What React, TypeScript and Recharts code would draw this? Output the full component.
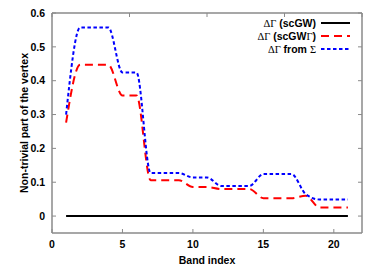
import React from "react";
import { LineChart, Line, XAxis, YAxis, Legend } from "recharts";

const bandIndex = [1, 2, 3, 4, 5, 6, 7, 8, 9, 10, 11, 12, 13, 14, 15, 16, 17, 18, 19, 20, 21];
const scGW = [0, 0, 0, 0, 0, 0, 0, 0, 0, 0, 0, 0, 0, 0, 0, 0, 0, 0, 0, 0, 0];
const scGWGamma = [0.276, 0.447, 0.447, 0.447, 0.356, 0.356, 0.106, 0.106, 0.106, 0.086, 0.086, 0.08, 0.08, 0.08, 0.053, 0.053, 0.053, 0.06, 0.025, 0.025, 0.025];
const fromSigma = [0.3, 0.557, 0.557, 0.557, 0.424, 0.424, 0.127, 0.127, 0.127, 0.114, 0.114, 0.089, 0.089, 0.089, 0.124, 0.124, 0.124, 0.065, 0.049, 0.049, 0.049];

const xTicks = [0, 5, 10, 15, 20];
const yTicks = [0, 0.1, 0.2, 0.3, 0.4, 0.5, 0.6];

const data = bandIndex.map((b, i) => ({ band: b, a: scGW[i], b: scGWGamma[i], c: fromSigma[i] }));

const FONT = "'Liberation Sans', Arial, sans-serif";
const SERIF = "'Liberation Serif', 'Times New Roman', serif";
const FRAME = "#8a8a8a";

const BottomTick = (p: any) => (
  <g>
    <line x1={p.x} y1={p.y} x2={p.x} y2={p.y - 4} stroke={FRAME} strokeWidth={1} />
    <text x={p.x} y={p.y + 14.5} textAnchor="middle" fontFamily={FONT} fontWeight="bold" fontSize={10.5} fill="#000">
      {p.payload.value}
    </text>
  </g>
);
const TopTick = (p: any) => (
  <line x1={p.x} y1={p.y} x2={p.x} y2={p.y + 4} stroke={FRAME} strokeWidth={1} />
);
const LeftTick = (p: any) => (
  <g>
    <line x1={p.x} y1={p.y} x2={p.x + 4} y2={p.y} stroke={FRAME} strokeWidth={1} />
    <text x={p.x - 7} y={p.y + 3.8} textAnchor="end" fontFamily={FONT} fontWeight="bold" fontSize={10.5} fill="#000">
      {p.payload.value === 0 ? "0" : Number(p.payload.value).toFixed(1)}
    </text>
  </g>
);
const RightTick = (p: any) => (
  <line x1={p.x} y1={p.y} x2={p.x - 4} y2={p.y} stroke={FRAME} strokeWidth={1} />
);

const legendItems = [
  { pre: "ΔΓ", label: " (scGW)", mid: "", post: "", color: "#000", dash: undefined as string | undefined },
  { pre: "ΔΓ", label: " (scGW", mid: "Γ", post: ")", color: "#ff0000", dash: "8 5" },
  { pre: "ΔΓ", label: " from ", mid: "Σ", post: "", color: "#0000ff", dash: "3.5 2.5" },
];

const LegendContent = () => (
  <svg width={382} height={267} style={{ position: "absolute", left: 0, top: 0, overflow: "visible" }}>
    {legendItems.map((it, i) => {
      const y = 23 + i * 13;
      return (
        <g key={i}>
          <text x={316} y={y + 3.8} textAnchor="end" fontSize={10.5} fill="#000">
            <tspan fontFamily={SERIF}>{it.pre}</tspan>
            <tspan fontFamily={FONT} fontWeight="bold">{it.label}</tspan>
            {it.mid ? <tspan fontFamily={SERIF}>{it.mid}</tspan> : null}
            {it.post ? <tspan fontFamily={FONT} fontWeight="bold">{it.post}</tspan> : null}
          </text>
          <line x1={321} y1={y} x2={350} y2={y} stroke={it.color} strokeWidth={2} strokeDasharray={it.dash} />
        </g>
      );
    })}
  </svg>
);

export default function App() {
  return (
    <div style={{ position: "absolute", left: 0, top: 0, width: 382, height: 267, background: "#fff" }}>
      <LineChart width={382} height={267} data={data} margin={{ top: 12, right: 19, bottom: 33, left: 51 }}>
        <XAxis
          xAxisId="main"
          dataKey="band"
          type="number"
          domain={[0, 22]}
          ticks={xTicks}
          height={1}
          tickSize={0}
          tickMargin={0}
          axisLine={{ stroke: FRAME, strokeWidth: 1.5 }}
          tickLine={false}
          tick={<BottomTick />}
          interval={0}
          allowDataOverflow
          label={{ value: "Band index", position: "bottom", offset: 23, fontFamily: FONT, fontWeight: "bold", fontSize: 10.5, fill: "#000" }}
        />
        <XAxis
          xAxisId="top"
          orientation="top"
          type="number"
          domain={[0, 22]}
          ticks={xTicks}
          height={1}
          tickSize={0}
          tickMargin={0}
          axisLine={{ stroke: FRAME, strokeWidth: 1.5 }}
          tickLine={false}
          tick={<TopTick />}
          interval={0}
          allowDataOverflow
        />
        <YAxis
          yAxisId="main"
          type="number"
          domain={[-0.05, 0.6]}
          ticks={yTicks}
          width={1}
          tickSize={0}
          tickMargin={0}
          axisLine={{ stroke: FRAME, strokeWidth: 1.5 }}
          tickLine={false}
          tick={<LeftTick />}
          interval={0}
          allowDataOverflow
          label={{ value: "Non-trivial part of the vertex", angle: -90, position: "left", offset: 27, fontFamily: FONT, fontWeight: "bold", fontSize: 10.5, fill: "#000", style: { textAnchor: "middle" } }}
        />
        <YAxis
          yAxisId="right"
          orientation="right"
          type="number"
          domain={[-0.05, 0.6]}
          ticks={yTicks}
          width={1}
          tickSize={0}
          tickMargin={0}
          axisLine={{ stroke: FRAME, strokeWidth: 1.5 }}
          tickLine={false}
          tick={<RightTick />}
          interval={0}
          allowDataOverflow
        />
        <Legend
          layout="horizontal"
          verticalAlign="middle"
          align="center"
          content={<LegendContent />}
          wrapperStyle={{ position: "absolute", left: 0, top: 0, width: 0, height: 0, overflow: "visible" }}
        />
        <Line xAxisId="main" yAxisId="main" dataKey="a" type="monotone" stroke="#000" strokeWidth={2} dot={false} isAnimationActive={false} />
        <Line xAxisId="main" yAxisId="main" dataKey="b" type="monotone" stroke="#ff0000" strokeWidth={2} strokeDasharray="8 5" dot={false} isAnimationActive={false} />
        <Line xAxisId="main" yAxisId="main" dataKey="c" type="monotone" stroke="#0000ff" strokeWidth={2} strokeDasharray="3.5 2.5" dot={false} isAnimationActive={false} />
      </LineChart>
    </div>
  );
}
